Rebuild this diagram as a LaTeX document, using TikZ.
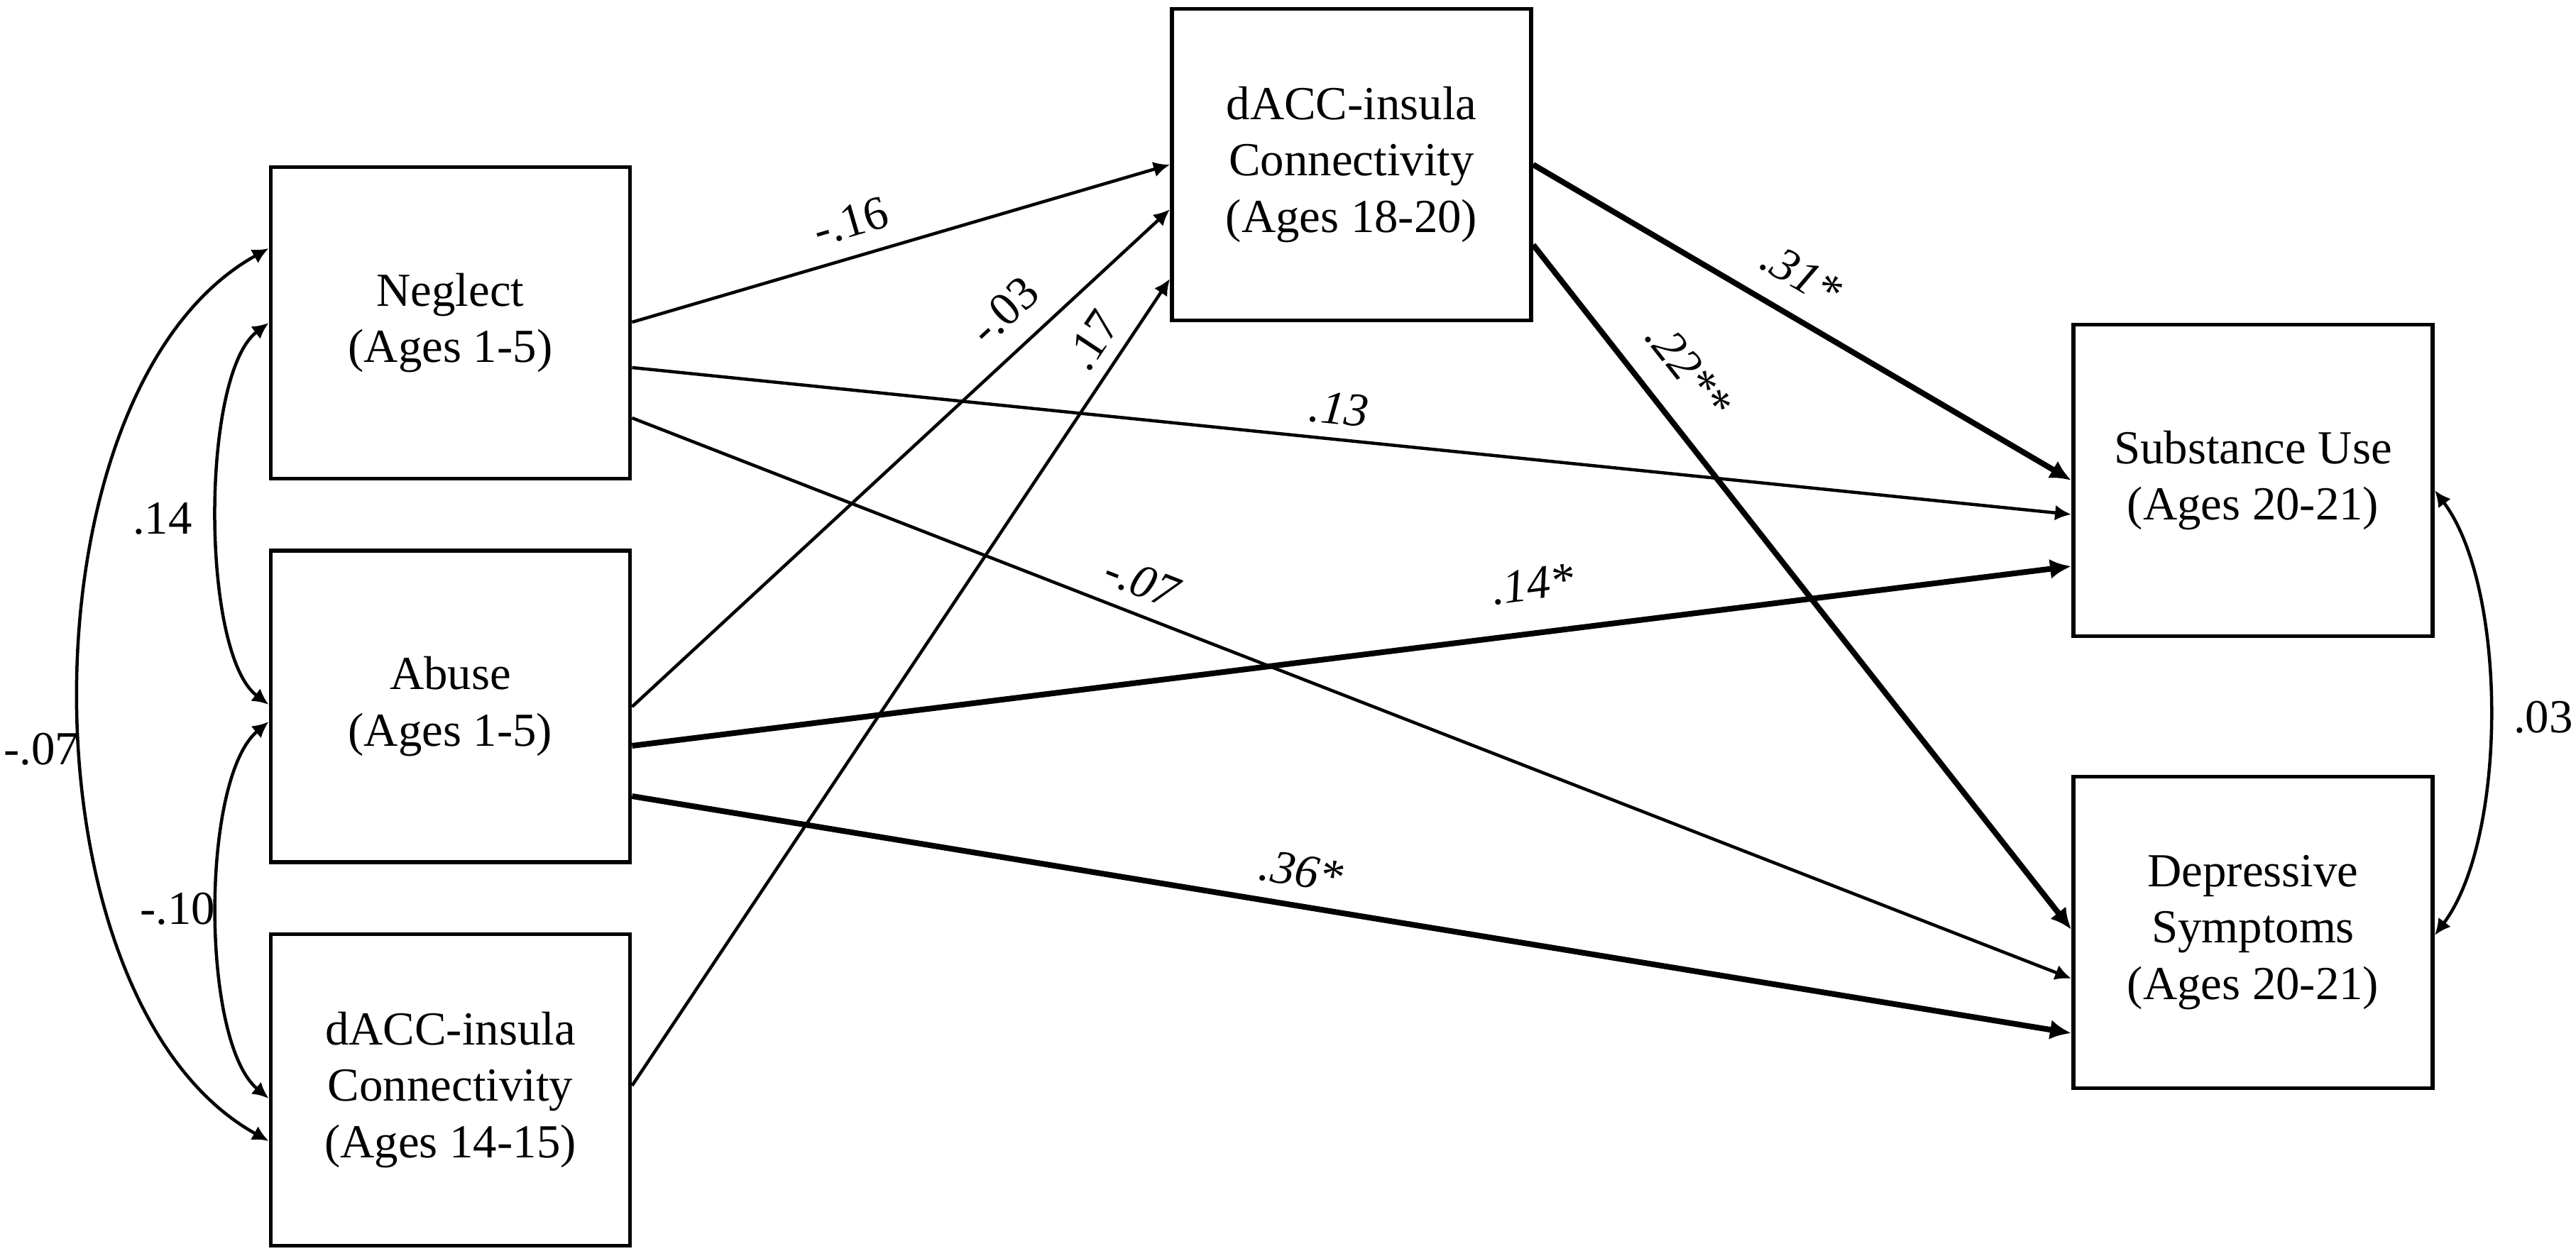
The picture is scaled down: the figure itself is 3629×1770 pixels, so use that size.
\documentclass[tikz,border=0pt]{standalone}
\usepackage{fontspec}
\setmainfont{Liberation Serif}
\usetikzlibrary{arrows.meta}
\begin{document}
\begin{tikzpicture}[x=0.01cm,y=-0.01cm,
  box/.style={draw, line width=0.055cm, minimum width=5.06cm, minimum height=4.39cm,
    inner sep=0pt, align=center, font=\fontsize{19}{22.7}\selectfont},
  thinarr/.style={line width=0.045cm, -{Latex[length=0.23cm,width=0.22cm]}},
  boldarr/.style={line width=0.08cm, -{Latex[length=0.3cm,width=0.28cm]}},
  cov/.style={line width=0.045cm, {Latex[length=0.23cm,width=0.22cm]}-{Latex[length=0.23cm,width=0.22cm]}},
  lab/.style={font=\fontsize{19}{22.7}\selectfont, inner sep=0pt, text height=0.45cm, text depth=0cm},
  ilab/.style={lab, font=\fontsize{19}{22.7}\selectfont\itshape}]
\useasboundingbox (0,0) rectangle (3629,1770);

% boxes
\node[box] (neglect) at (634.5,455) {Neglect\\(Ages 1-5)};
\node[box] (abuse) at (634.5,995.5) {Abuse\\(Ages 1-5)};
\node[box] (d14) at (634.5,1536) {dACC-insula\\Connectivity\\(Ages 14-15)};
\node[box] (d18) at (1904,232) {dACC-insula\\Connectivity\\(Ages 18-20)};
\node[box] (sub) at (3174,677) {Substance Use\\(Ages 20-21)};
\node[box] (dep) at (3174,1314) {Depressive\\Symptoms\\(Ages 20-21)};

% paths to dACC 18-20
\draw[thinarr] (neglect.east |- 0,454) -- node[lab, sloped, pos=0.425, above=0.26cm] (l1) {-.16} (d18.west |- 0,232);
\draw[thinarr] (abuse.east |- 0,996) -- node[lab, sloped, pos=0.74, above=0.3cm] (l2) {-.03} (d18.west |- 0,295);
\draw[thinarr] (d14.east |- 0,1530) -- node[lab, sloped, pos=0.903, above=0.19cm] (l3) {.17} (d18.west |- 0,393);

% paths to outcomes
\draw[thinarr] (neglect.east |- 0,518) -- node[ilab, sloped, pos=0.489, above=0.19cm] (l4) {.13} (sub.west |- 0,725);
\draw[thinarr] (neglect.east |- 0,589) -- node[ilab, sloped, pos=0.346, above=0.22cm] (l5) {-.07} (dep.west |- 0,1379);
\draw[boldarr] (abuse.east |- 0,1051) -- node[ilab, sloped, pos=0.63, above=0.43cm] (l6) {.14*} (sub.west |- 0,798);
\draw[boldarr] (abuse.east |- 0,1122) -- node[ilab, sloped, pos=0.461, above=0.23cm] (l7) {.36*} (dep.west |- 0,1456);
\draw[boldarr] (d18.east |- 0,232) -- node[ilab, sloped, pos=0.46, above=0.32cm] (l8) {.31*} (sub.west |- 0,677);
\draw[boldarr] (d18.east |- 0,345) -- node[ilab, sloped, pos=0.223, above=0.38cm] (l9) {.22**} (dep.west |- 0,1310);

% covariances
\draw[cov] (neglect.west |- 0,455) .. controls +(-96,72) and +(-96,-72) .. (abuse.west |- 0,993);
\draw[cov] (abuse.west |- 0,1017) .. controls +(-96,80) and +(-96,-80) .. (d14.west |- 0,1548);
\draw[cov] (neglect.west |- 0,350) .. controls +(-355,197) and +(-355,-197) .. (d14.west |- 0,1608);
\draw[cov] (sub.east |- 0,691) .. controls +(103,137) and +(103,-137) .. (dep.east |- 0,1318);

\node[lab] (c1) at (229,730) {.14};
\node[lab] (c2) at (58,1055) {-.07};
\node[lab] (c3) at (250,1280) {-.10};
\node[lab] (c4) at (3583,1010) {.03};
\end{tikzpicture}
\end{document}
